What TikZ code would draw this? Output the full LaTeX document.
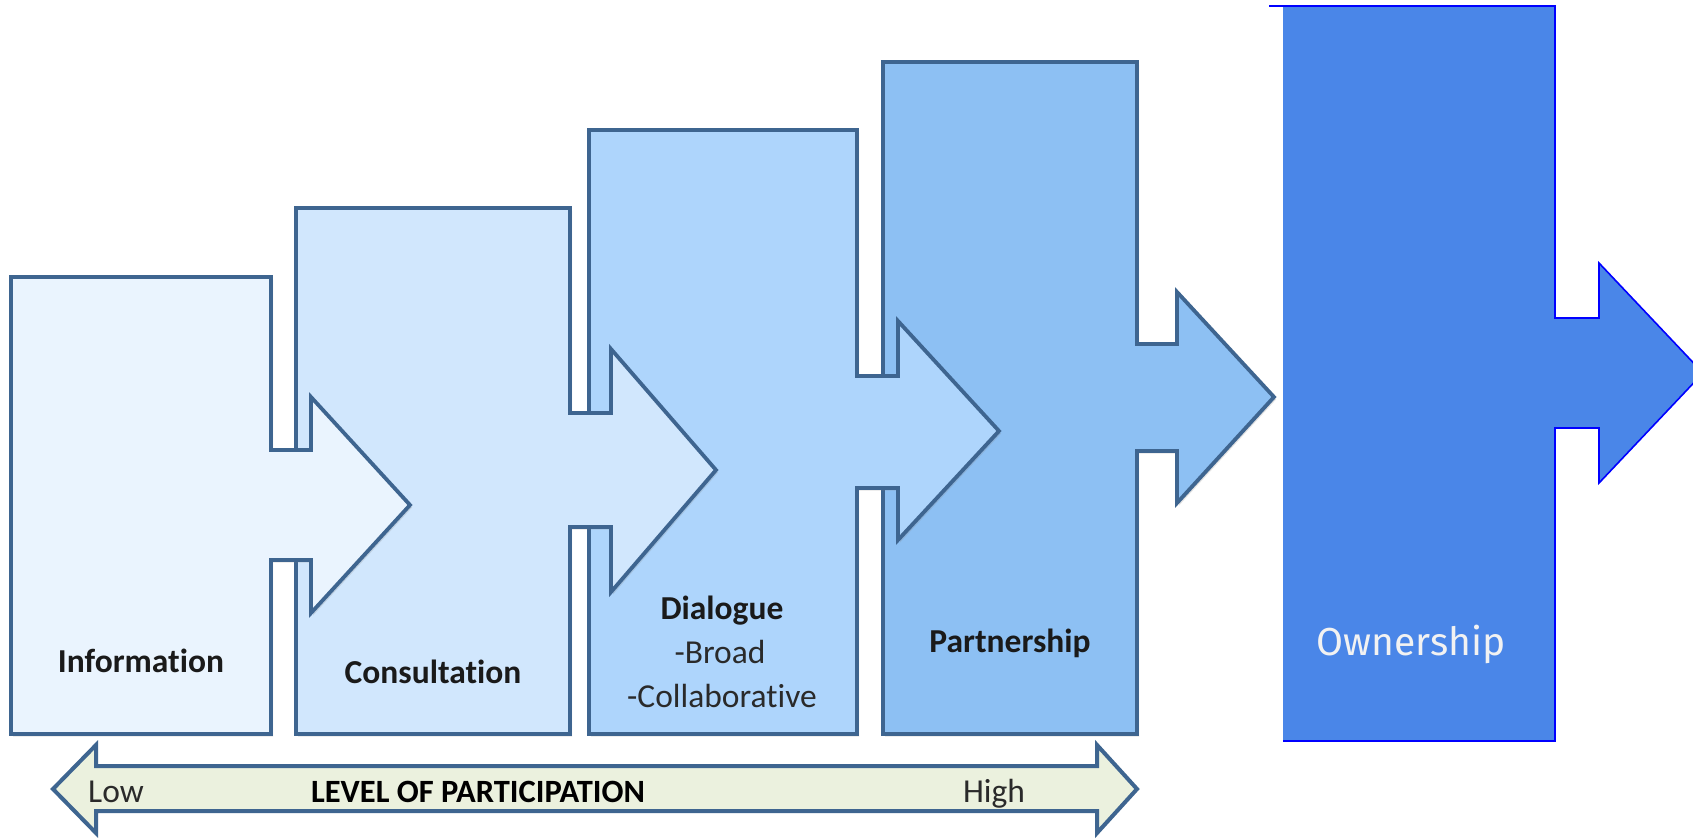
\documentclass[tikz,border=0pt]{standalone}
\usepackage{fontspec}
\usetikzlibrary{shadows}
\setmainfont{Carlito}[Ligatures={NoCommon,NoContextual}]
\newfontfamily\ownfont{Fira Sans}
\definecolor{edge}{HTML}{3E6590}
\definecolor{fillA}{HTML}{EAF4FE}
\definecolor{fillB}{HTML}{D1E7FD}
\definecolor{fillC}{HTML}{AED5FC}
\definecolor{fillD}{HTML}{8DC0F3}
\definecolor{fillE}{HTML}{4A86E8}
\definecolor{ownedge}{HTML}{0000FF}
\definecolor{barfill}{HTML}{EBF1DE}
\definecolor{labeltxt}{HTML}{1A1A1A}
\definecolor{subtxt}{HTML}{2A2A2A}
\tikzset{
  blockshape/.style={draw=edge, line width=3.8pt, line join=miter,
    drop shadow={shadow xshift=2pt, shadow yshift=-2.5pt, opacity=.22}},
  labeltext/.style={font=\fontsize{33.5}{40}\selectfont\bfseries, text=labeltxt, inner sep=0pt, anchor=base},
  subtext/.style={font=\fontsize{33.5}{40}\selectfont, text=subtxt, inner sep=0pt, anchor=base},
  bartext/.style={font=\fontsize{33.5}{40}\selectfont, text=subtxt, inner sep=0pt, anchor=base},
}
\begin{document}
\begin{tikzpicture}[x=1pt,y=-1pt]
\path[use as bounding box, fill=white] (0,0) rectangle (1693,839);

% Ownership block (drawn first, clipped at the picture edge)
\begin{scope}
\clip (0,0) rectangle (1693,839);
\fill[fillE] (1283,6) -- (1555,6) -- (1555,318) -- (1599,318) -- (1599,263) -- (1703,373) -- (1599,483) -- (1599,428) -- (1555,428) -- (1555,741) -- (1283,741) -- cycle;
\draw[ownedge, line width=1.6pt, line join=miter] (1269,6) -- (1555,6) -- (1555,318) -- (1599,318) -- (1599,263) -- (1703,373) -- (1599,483) -- (1599,428) -- (1555,428) -- (1555,741) -- (1283,741);
\end{scope}

% Partnership
\draw[blockshape, fill=fillD] (883,62) -- (1137,62) -- (1137,344) -- (1177,344) -- (1177,292) -- (1274,397) -- (1177,503) -- (1177,451) -- (1137,451) -- (1137,734) -- (883,734) -- cycle;
% Dialogue
\draw[blockshape, fill=fillC] (589,130) -- (857,130) -- (857,376) -- (898,376) -- (898,321) -- (999,431) -- (898,540) -- (898,488) -- (857,488) -- (857,734) -- (589,734) -- cycle;
% Consultation
\draw[blockshape, fill=fillB] (296,208) -- (570,208) -- (570,413) -- (611,413) -- (611,349) -- (716,470) -- (611,592) -- (611,527) -- (570,527) -- (570,734) -- (296,734) -- cycle;
% Information
\draw[blockshape, fill=fillA] (11,277) -- (271,277) -- (271,450) -- (311,450) -- (311,397) -- (410,505) -- (311,613) -- (311,560) -- (271,560) -- (271,734) -- (11,734) -- cycle;

% labels
\node[labeltext] (info) at (141,672) {Information};
\node[labeltext] (cons) at (433,683) {Consultation};
\node[labeltext] (dial) at (722,619) {Dialogue};
\node[subtext] (broad) at (720,663) {-Broad};
\node[subtext] (collab) at (722,707) {-Collaborative};
\node[labeltext] (part) at (1010,652) {Partnership};
\node[inner sep=0pt, anchor=base, text=white!95!black, font=\ownfont\fontsize{39}{46}\selectfont] (own) at (1411,655) {Ownership};

% level of participation bar
\draw[draw=edge, line width=4pt, line join=miter, fill=barfill] (53,789) -- (96,745) -- (96,766) -- (1097,766) -- (1097,745) -- (1137,789) -- (1097,833) -- (1097,811) -- (96,811) -- (96,833) -- cycle;
\node[bartext, anchor=base west] (low) at (88,802) {Low};
\node[bartext, text=black, font=\fontsize{32.5}{39}\selectfont\bfseries] (level) at (478,802) {LEVEL OF PARTICIPATION};
\node[bartext] (high) at (994,802) {High};
\end{tikzpicture}
\end{document}
